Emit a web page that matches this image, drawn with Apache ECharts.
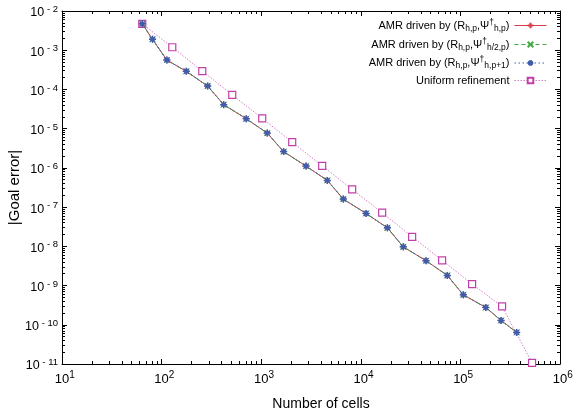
<!DOCTYPE html>
<html>
<head>
<meta charset="utf-8">
<script src="https://cdn.jsdelivr.net/npm/echarts@6/dist/echarts.min.js"></script>
<style>
  html, body { margin: 0; padding: 0; background: #fff; }
  #goal_error_grp { width: 578px; height: 419px; }
</style>
</head>
<body>
<div id="goal_error_grp"></div>
<script>
// data (the three AMR curves lie on top of each other)
var cellsAmr = [64, 81, 113, 177, 290, 420, 708, 1150, 1680, 2820, 4610, 6670, 11300, 18500, 26700, 45200, 73900, 107000, 180000, 256000, 367000];
var errAmrHp = [4.7e-3, 1.9e-3, 5.6e-4, 2.9e-4, 1.22e-4, 4.1e-5, 1.79e-5, 7.7e-6, 2.6e-6, 1.11e-6, 4.8e-7, 1.6e-7, 6.9e-8, 2.96e-8, 9.7e-9, 4.3e-9, 1.81e-9, 5.8e-10, 2.76e-10, 1.29e-10, 6.4e-11];
var errAmrH2p = [4.7e-3, 1.9e-3, 5.6e-4, 2.9e-4, 1.22e-4, 4.1e-5, 1.79e-5, 7.7e-6, 2.6e-6, 1.11e-6, 4.8e-7, 1.6e-7, 6.9e-8, 2.96e-8, 9.7e-9, 4.3e-9, 1.81e-9, 5.8e-10, 2.76e-10, 1.29e-10, 6.4e-11];
var errAmrHp1 = [4.7e-3, 1.9e-3, 5.6e-4, 2.9e-4, 1.22e-4, 4.1e-5, 1.79e-5, 7.7e-6, 2.6e-6, 1.11e-6, 4.8e-7, 1.6e-7, 6.9e-8, 2.96e-8, 9.7e-9, 4.3e-9, 1.81e-9, 5.8e-10, 2.76e-10, 1.29e-10, 6.4e-11];
var cellsUniform = [64, 128, 256, 512, 1024, 2048, 4096, 8192, 16384, 32768, 65536, 131072, 262144, 524288];
var errUniform = [4.7e-3, 1.19e-3, 2.94e-4, 7.3e-5, 1.83e-5, 4.55e-6, 1.13e-6, 2.83e-7, 7.2e-8, 1.75e-8, 4.4e-9, 1.09e-9, 2.93e-10, 1.07e-11];

// tick values
var xMajorTicks = [1e1, 1e2, 1e3, 1e4, 1e5, 1e6];
var yMajorTicks = [1e-11, 1e-10, 1e-9, 1e-8, 1e-7, 1e-6, 1e-5, 1e-4, 1e-3, 1e-2];
var minorSteps = [2, 3, 4, 5, 6, 7, 8, 9];

var xMinorTicks = [];
xMajorTicks.slice(0, -1).forEach(function (d) {
  minorSteps.forEach(function (m) { xMinorTicks.push(m * d); });
});
var yMinorTicks = [];
yMajorTicks.slice(0, -1).forEach(function (d) {
  minorSteps.forEach(function (m) { yMinorTicks.push(m * d); });
});

var nameHp = 'AMR driven by (R_h,p, Psi_h,p)';
var nameH2p = 'AMR driven by (R_h,p, Psi_h/2,p)';
var nameHp1 = 'AMR driven by (R_h,p, Psi_h,p+1)';
var nameUni = 'Uniform refinement';

var legendText = {};
legendText[nameHp] = '{n|AMR driven by (R}{sb|h,p}{n|,Ψ}{sp|†}{sb|h,p}{n|)}';
legendText[nameH2p] = '{n|AMR driven by (R}{sb|h,p}{n|,Ψ}{sp|†}{sb|h/2,p}{n|)}';
legendText[nameHp1] = '{n|AMR driven by (R}{sb|h,p}{n|,Ψ}{sp|†}{sb|h,p+1}{n|)}';
legendText[nameUni] = '{n|Uniform refinement}';

function pairs(xs, ys) {
  return xs.map(function (x, i) { return [x, ys[i]]; });
}

var fontFam = 'Liberation Sans, Arial, sans-serif';
var colRed = '#d83a46';
var colGreen = '#46a846';
var colBlue = '#3f5ca8';
var colMag = '#c040a8';
var colMagLine = '#d77cc8';

function expLabel(v) {
  var e = Math.round(Math.log(v) / Math.LN10);
  return e;
}

function legendFor(name, top) {
  return {
    data: [name],
    orient: 'vertical',
    align: 'right',
    right: 31,
    top: top,
    padding: 0,
    itemWidth: 32,
    itemHeight: 7,
    itemGap: 0,
    lineStyle: { width: 1 },
    formatter: function (n) { return legendText[n]; },
    textStyle: {
      fontFamily: fontFam,
      color: '#000',
      rich: {
        n: { fontSize: 11, lineHeight: 15, fontFamily: fontFam, color: '#000' },
        sb: { fontSize: 8.5, lineHeight: 8, verticalAlign: 'bottom', fontFamily: fontFam, color: '#000' },
        sp: { fontSize: 8.5, lineHeight: 8, verticalAlign: 'top', fontFamily: fontFam, color: '#000' }
      }
    }
  };
}

function frameAxis(pos, isX, ticks, len, withLine) {
  var ax = {
    type: 'log',
    logBase: 10,
    position: pos,
    min: isX ? 1e1 : 1e-11,
    max: isX ? 1e6 : 1e-2,
    axisLine: { show: withLine, onZero: false, lineStyle: { color: '#000', width: 1 } },
    axisTick: { show: true, inside: true, length: len, customValues: ticks, lineStyle: { color: '#000', width: 1 } },
    axisLabel: { show: false },
    splitLine: { show: false },
    minorTick: { show: false }
  };
  return ax;
}

var dom = document.getElementById('goal_error_grp');
var myChart = echarts.init(dom, null, { renderer: 'canvas' });

var xMain = frameAxis('bottom', true, xMajorTicks, 5, true);
xMain.name = 'Number of cells';
xMain.nameLocation = 'middle';
xMain.nameGap = 33;
xMain.nameTextStyle = { fontFamily: fontFam, fontSize: 14, color: '#000', padding: [0, 0, 0, 20] };
xMain.axisLabel = {
  show: true,
  margin: 6,
  customValues: xMajorTicks,
  formatter: function (v) { return '{s| }{b|10}{e|' + expLabel(v) + '}'; },
  rich: {
    s: { fontSize: 10, width: 5.5, lineHeight: 9, fontFamily: fontFam },
    b: { fontSize: 13, lineHeight: 18, fontFamily: fontFam, color: '#000' },
    e: { fontSize: 10, lineHeight: 9, verticalAlign: 'top', fontFamily: fontFam, color: '#000' }
  }
};

var yMain = frameAxis('left', false, yMajorTicks, 5, true);
yMain.name = '|Goal error|';
yMain.nameLocation = 'middle';
yMain.nameGap = 40;
yMain.nameMoveOverlap = false;
yMain.nameTextStyle = { fontFamily: fontFam, fontSize: 15, color: '#000' };
yMain.axisLabel = {
  show: true,
  margin: 4,
  padding: [4, 0, 0, 0],
  customValues: yMajorTicks,
  formatter: function (v) {
    var e = expLabel(v);
    return '{b|10}{e| - ' + Math.abs(e) + '}';
  },
  rich: {
    b: { fontSize: 12.5, lineHeight: 17, fontFamily: fontFam, color: '#000' },
    e: { fontSize: 9.5, lineHeight: 8, verticalAlign: 'top', fontFamily: fontFam, color: '#000' }
  }
};

var option = {
  backgroundColor: '#fff',
  animation: false,
  grid: { left: 62, right: 18, top: 11, bottom: 55, containLabel: false, outerBoundsMode: 'none' },
  legend: [
    legendFor(nameHp, 18),
    legendFor(nameH2p, 37),
    legendFor(nameHp1, 55.5),
    legendFor(nameUni, 75)
  ],
  xAxis: [
    xMain,
    frameAxis('bottom', true, xMinorTicks, 3, false),
    frameAxis('top', true, xMajorTicks, 5, true),
    frameAxis('top', true, xMinorTicks, 3, false)
  ],
  yAxis: [
    yMain,
    frameAxis('left', false, yMinorTicks, 3, false),
    frameAxis('right', false, yMajorTicks, 5, true),
    frameAxis('right', false, yMinorTicks, 3, false)
  ],
  series: [
    {
      name: nameUni,
      type: 'line',
      data: pairs(cellsUniform, errUniform),
      symbol: 'rect',
      symbolSize: 7,
      itemStyle: { color: '#fff', borderColor: colMag, borderWidth: 1.2 },
      lineStyle: { color: colMagLine, width: 1, type: [1.5, 1.5] },
      z: 2
    },
    {
      name: nameHp,
      type: 'line',
      data: pairs(cellsAmr, errAmrHp),
      symbol: 'path://M0,5L10,5M5,0L5,10',
      symbolSize: 7,
      itemStyle: { color: colRed, borderColor: colRed, borderWidth: 1 },
      lineStyle: { color: colRed, width: 1 },
      z: 3
    },
    {
      name: nameH2p,
      type: 'line',
      data: pairs(cellsAmr, errAmrH2p),
      symbol: 'path://M0,0L10,10M10,0L0,10',
      symbolSize: 6,
      itemStyle: { color: colGreen, borderColor: colGreen, borderWidth: 1 },
      lineStyle: { color: colGreen, width: 1, type: [4, 3] },
      z: 4
    },
    {
      name: nameHp1,
      type: 'line',
      data: pairs(cellsAmr, errAmrHp1),
      symbol: 'path://M0,5L10,5M5,0L5,10M1.5,1.5L8.5,8.5M8.5,1.5L1.5,8.5',
      symbolSize: 7,
      itemStyle: { color: colBlue, borderColor: colBlue, borderWidth: 1.5 },
      lineStyle: { color: colBlue, width: 1, type: [1.5, 2.5] },
      z: 5
    }
  ]
};

if (option && typeof option === 'object') {
  myChart.setOption(option);
}

window.addEventListener('resize', myChart.resize);
</script>
</body>
</html>
